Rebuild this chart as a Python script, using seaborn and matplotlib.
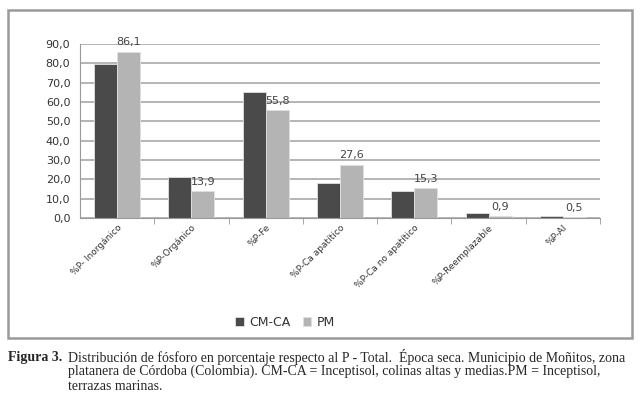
import matplotlib
matplotlib.use("Agg")
import matplotlib.pyplot as plt
import numpy as np
import pandas as pd
import seaborn as sns
from matplotlib.patches import Rectangle

# datos
categorias = ['%P- Inorgánico', '%P-Orgánico', '%P-Fe', '%P-Ca apatítico',
              '%P-Ca no apatítico', '%P-Reemplazable', '%P-Al']
cm_ca = [79.6, 21.0, 65.0, 18.0, 14.2, 2.4, 1.2]
pm = [86.1, 13.9, 55.8, 27.6, 15.3, 0.9, 0.5]
series = ['CM-CA', 'PM']

df = pd.DataFrame({
    'Fraccion': categorias * 2,
    'Valor': cm_ca + pm,
    'Serie': [series[0]] * len(categorias) + [series[1]] * len(categorias),
})

sns.set_style('white')
plt.rcParams['font.family'] = ['DejaVu Sans']

fig = plt.figure(figsize=(6.4, 3.97), dpi=100)
# marco gris del grafico
fig.patches.append(Rectangle((8 / 640, 1 - 338 / 397), 624 / 640, 328 / 397,
                             transform=fig.transFigure, fill=False,
                             edgecolor='#9a9a9a', linewidth=1.8))

ax = fig.add_axes([80 / 640, 1 - 218 / 397, 520 / 640, 174 / 397])
sns.barplot(data=df, x='Fraccion', y='Valor', hue='Serie',
            palette=['#4a4a4a', '#b4b4b4'], width=0.62, ax=ax,
            edgecolor='#e0e0e0', linewidth=0.6)

ax.set_ylim(0, 90)
ax.set_yticks(np.arange(0, 91, 10))
ax.set_yticklabels([f'{v:.1f}'.replace('.', ',') for v in np.arange(0, 91, 10)],
                   fontsize=8, color='#333333')
ax.yaxis.grid(True, color='#a8a8a8', linewidth=1.2)
ax.set_axisbelow(True)
for s in ['top', 'right']:
    ax.spines[s].set_visible(False)
ax.spines['left'].set_color('#999999')
ax.spines['bottom'].set_color('#999999')
ax.set_xticks(np.arange(len(categorias)) + 0.5, minor=True)
ax.tick_params(axis='x', which='minor', length=4, color='#999999', bottom=True)
ax.tick_params(axis='x', which='major', length=0)
ax.set_xticklabels(categorias, rotation=45, ha='right', rotation_mode='anchor',
                   fontsize=6.5, color='#333333')
ax.set_xlabel('')
ax.set_ylabel('')

# etiquetas de PM
pm_bars = ax.containers[1]
ax.bar_label(pm_bars, labels=[f'{v:.1f}'.replace('.', ',') for v in pm],
             padding=3, fontsize=8, color='#444444')

ax.legend(loc='center', bbox_to_anchor=(0.394, -0.598), ncol=2, frameon=False,
          fontsize=9, handlelength=0.7, handleheight=0.7, columnspacing=1.0,
          handletextpad=0.4, labelcolor='#333333')

# pie de figura
serif = ['Liberation Serif', 'DejaVu Serif']
fig.text(8 / 640, 1 - 357 / 397, 'Figura 3.', fontsize=10, fontweight='bold',
         family=serif, va='center')
lineas = ['Distribución de fósforo en porcentaje respecto al P - Total.  Época seca. Municipio de Moñitos, zona',
          'platanera de Córdoba (Colombia). CM-CA = Inceptisol, colinas altas y medias.PM = Inceptisol,',
          'terrazas marinas.']
for i, t in enumerate(lineas):
    fig.text(68 / 640, 1 - (357 + 14.5 * i) / 397, t, fontsize=10, family=serif,
             va='center')

fig.savefig('out.png', dpi=100)
